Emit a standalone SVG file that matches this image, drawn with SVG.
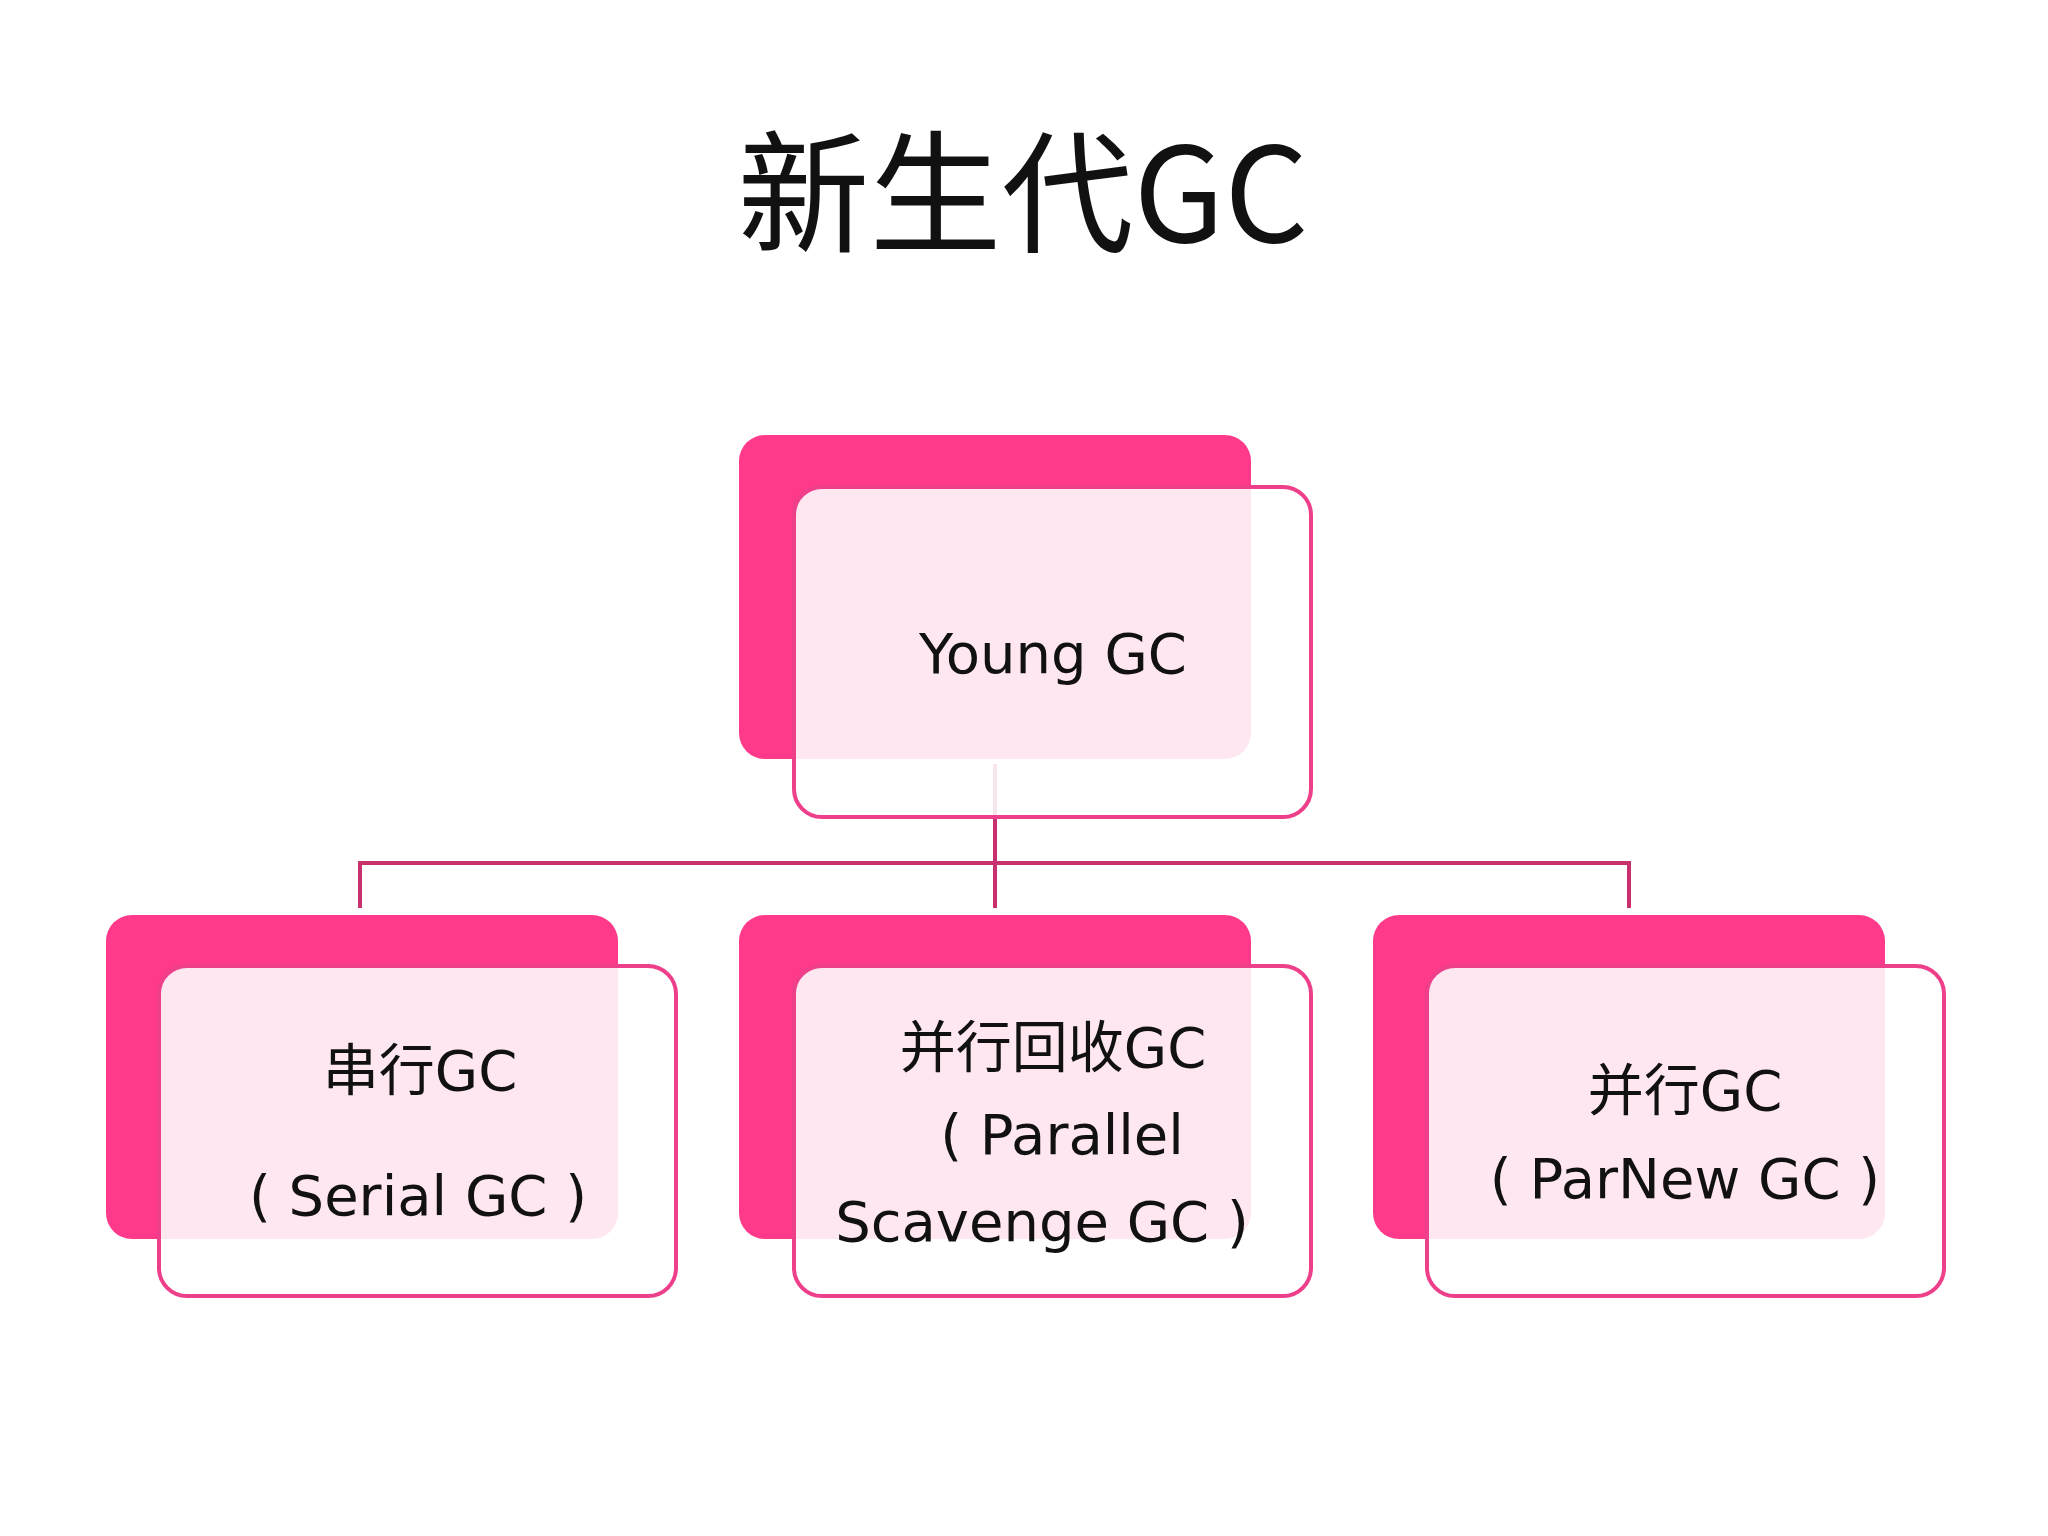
<svg xmlns="http://www.w3.org/2000/svg" width="2048" height="1536" viewBox="0 0 2048 1536">
<style>
.f{fill:#ff3a8a}
.o{fill:#ffffff;fill-opacity:0.88;stroke:#ee3f8a;stroke-width:4}
.t{font-family:"DejaVu Sans","Noto Sans CJK SC",sans-serif;font-size:56px;fill:#111;text-anchor:middle}
.c{stroke:#c8306e;stroke-width:4;fill:none}
</style>
<rect width="2048" height="1536" fill="#fff"/>
<text x="1023" y="242" font-family="'Noto Sans CJK SC',sans-serif" font-size="132" text-anchor="middle" fill="#111">新生代GC</text>
<g id="connectors">
<path class="c" d="M995 764V908M360 908V863H1629V908"/>
</g>
<g id="young">
<rect class="f" x="739" y="435" width="512" height="324" rx="26"/>
<rect class="o" x="794" y="487" width="517" height="330" rx="28"/>
<text class="t" x="1053" y="673">Young GC</text>
</g>
<g id="serial">
<rect class="f" x="106" y="915" width="512" height="324" rx="26"/>
<rect class="o" x="159" y="966" width="517" height="330" rx="28"/>
<text class="t" x="420" y="1090">串行GC</text>
<text class="t" x="418" y="1215">( Serial GC )</text>
</g>
<g id="parallel">
<rect class="f" x="739" y="915" width="512" height="324" rx="26"/>
<rect class="o" x="794" y="966" width="517" height="330" rx="28"/>
<text class="t" x="1053" y="1067">并行回收GC</text>
<text class="t" x="1062" y="1154">( Parallel</text>
<text class="t" x="1042" y="1241">Scavenge GC )</text>
</g>
<g id="parnew">
<rect class="f" x="1373" y="915" width="512" height="324" rx="26"/>
<rect class="o" x="1427" y="966" width="517" height="330" rx="28"/>
<text class="t" x="1685" y="1110">并行GC</text>
<text class="t" x="1685" y="1198">( ParNew GC )</text>
</g>
</svg>
